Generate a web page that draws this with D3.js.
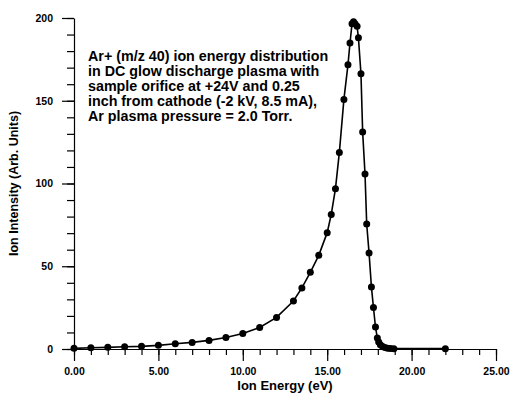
<!DOCTYPE html>
<html>
<head>
<meta charset="utf-8">
<script src="https://cdn.jsdelivr.net/npm/d3@7"></script>
<style>
  body { margin: 0; background: #fff; }
  svg { display: block; font-family: "Liberation Sans", Arial, sans-serif; }
</style>
</head>
<body>
<svg id="chart" width="511" height="393"></svg>
<script>
// ion energy (eV) and intensity (arb. units)
const energy = [0, 1, 2, 3, 4, 5, 6, 7, 8, 9, 10, 11, 12, 13, 13.5, 14, 14.5, 15,
  15.24, 15.49, 15.72, 15.99, 16.23, 16.35, 16.47, 16.56, 16.65, 16.77, 16.85,
  17.0, 17.1, 17.24, 17.34, 17.48, 17.62, 17.74, 17.86, 17.97,
  18.05, 18.15, 18.28, 18.42, 18.58, 18.75, 18.95, 22.0];
const intensity = [0.4, 0.8, 1.0, 1.4, 1.6, 2.2, 3.2, 4.0, 5.2, 7.0, 9.4, 13.0, 19.1, 29.0, 36.9, 46.3, 56.6, 70.3,
  81.3, 96.9, 118.8, 150.8, 171.7, 184.9, 196.5, 197.8, 196.5, 195.0, 188.0,
  166.3, 131.1, 105.7, 75.5, 58.0, 37.5, 25.1, 13.3, 6.6,
  4.2, 2.6, 1.5, 0.9, 0.5, 0.3, 0.2, 0.2];

const xMajor = [0, 5, 10, 15, 20, 25];
const yMajor = [0, 50, 100, 150, 200];

const titleLines = [
  "Ar+ (m/z 40) ion energy distribution",
  "in DC glow discharge plasma with",
  "sample orifice at +24V and 0.25",
  "inch from cathode (-2 kV, 8.5 mA),",
  "Ar plasma pressure = 2.0 Torr."
];

const svg = d3.select("#chart");
const margin = { top: 18, right: 15, bottom: 44, left: 74 };
const width = 511, height = 393;

const x = d3.scaleLinear().domain([0, 25]).range([margin.left, width - margin.right]);
const y = d3.scaleLinear().domain([0, 200]).range([height - margin.bottom, margin.top]);

// minor ticks
svg.append("g")
  .attr("transform", `translate(0,${y(0)})`)
  .call(d3.axisBottom(x).tickValues(d3.range(0, 26, 1)).tickSize(6).tickSizeOuter(0).tickFormat(""))
  .call(g => g.select(".domain").remove());
svg.append("g")
  .attr("transform", `translate(${x(0)},0)`)
  .call(d3.axisLeft(y).tickValues(d3.range(0, 201, 10)).tickSize(7).tickSizeOuter(0).tickFormat(""))
  .call(g => g.select(".domain").remove());

// major ticks + labels
svg.append("g")
  .attr("transform", `translate(0,${y(0)})`)
  .call(d3.axisBottom(x).tickValues(xMajor).tickSize(12).tickSizeOuter(0).tickPadding(7).tickFormat(d3.format(".2f")));
svg.append("g")
  .attr("transform", `translate(${x(0)},0)`)
  .call(d3.axisLeft(y).tickValues(yMajor).tickSize(12).tickSizeOuter(0).tickPadding(9).tickFormat(d3.format("d")));

svg.selectAll(".tick text")
  .attr("font-family", "'Liberation Sans', Arial, sans-serif")
  .attr("font-size", 10.5)
  .attr("font-weight", "bold")
  .attr("fill", "#000");
svg.selectAll(".tick line, .domain").attr("stroke", "#000").attr("stroke-width", 1.2);

// axis titles
svg.append("text")
  .attr("x", (x(0) + x(25)) / 2)
  .attr("y", 389.5)
  .attr("text-anchor", "middle")
  .attr("font-size", 13)
  .attr("font-weight", "bold")
  .text("Ion Energy (eV)");

svg.append("text")
  .attr("transform", `translate(18,${(y(0) + y(200)) / 2}) rotate(-90)`)
  .attr("text-anchor", "middle")
  .attr("font-size", 12.5)
  .attr("font-weight", "bold")
  .text("Ion Intensity (Arb. Units)");

// annotation
svg.append("g")
  .selectAll("text")
  .data(titleLines)
  .join("text")
  .attr("x", 88)
  .attr("y", (d, i) => 61 + i * 15)
  .attr("font-size", 14.3)
  .attr("font-weight", "bold")
  .text(d => d);

// data
const pts = energy.map((e, i) => ({ e, v: intensity[i] }));
svg.append("path")
  .datum(pts)
  .attr("fill", "none")
  .attr("stroke", "#000")
  .attr("stroke-width", 1.6)
  .attr("d", d3.line().x(d => x(d.e)).y(d => y(d.v)));

svg.append("g")
  .selectAll("circle")
  .data(pts)
  .join("circle")
  .attr("cx", d => x(d.e))
  .attr("cy", d => y(d.v))
  .attr("r", 3.5)
  .attr("fill", "#000");
</script>
</body>
</html>
